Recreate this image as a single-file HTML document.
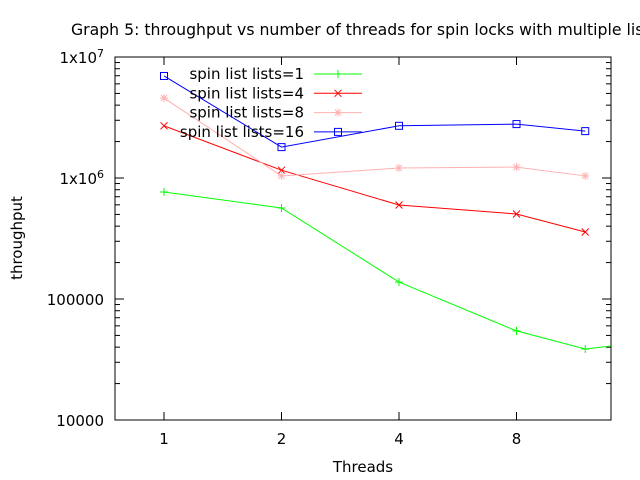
<!DOCTYPE html>
<html><head><meta charset="utf-8"><style>body{margin:0;background:#fff}svg{display:block}text{font-family:"DejaVu Sans","Liberation Sans",sans-serif;font-size:15px;fill:#000}</style></head>
<body>
<svg id="c" width="640" height="480">
<defs><clipPath id="cp"><rect x="115" y="57" width="496" height="363"/></clipPath></defs>
<text x="71" y="35" style="font-size:15.7px">Graph 5: throughput vs number of threads for spin locks with multiple lists</text>
<text x="22" y="238" text-anchor="middle" transform="rotate(-90 22 238)">throughput</text>
<text x="363" y="472" text-anchor="middle">Threads</text>
<g id="axes"></g><g id="series" clip-path="url(#cp)"></g><g id="marks"></g><g id="legend"></g>
</svg>
<script>
const threads=[1,2,4,8,12,16];
const xTicks=[1,2,4,8];
const yTicks=[10000,100000,1000000,10000000];
const yTickLabels=["10000","100000","1x10^6","1x10^7"];
const names=["spin list lists=1","spin list lists=4","spin list lists=8","spin list lists=16"];
const s1=[766000,565000,138000,54500,38600,43000];
const s4=[2700000,1160000,598000,504000,358000];
const s8=[4580000,1040000,1210000,1230000,1040000];
const s16=[6970000,1800000,2700000,2790000,2440000];
const series=[s1,s4,s8,s16];
const colors=["#00ff00","#ff0000","#ffb0b0","#0000ff"];
const NS="http://www.w3.org/2000/svg";
const X=t=>164+Math.log2(t)*117.5;
const Y=v=>420-(Math.log10(v)-4)*121;
function mk(tag,at,p){const e=document.createElementNS(NS,tag);for(const k in at)e.setAttribute(k,at[k]);p.appendChild(e);return e;}
const ax=document.getElementById('axes');
mk('rect',{x:115,y:57,width:496,height:363,fill:'none',stroke:'#000','stroke-width':1},ax);
xTicks.forEach(t=>{const x=X(t);
 mk('line',{x1:x,y1:420,x2:x,y2:412,stroke:'#000'},ax);mk('line',{x1:x,y1:57,x2:x,y2:65,stroke:'#000'},ax);
 const tx=mk('text',{x:x,y:444,'text-anchor':'middle'},ax);tx.textContent=t;
 
 });
yTicks.forEach((v,i)=>{const y=Y(v);
 mk('line',{x1:115,y1:y,x2:124,y2:y,stroke:'#000'},ax);mk('line',{x1:611,y1:y,x2:602,y2:y,stroke:'#000'},ax);
 const tx=mk('text',{x:104,y:y+6,'text-anchor':'end','font-size':'14px'},ax);
 const l=yTickLabels[i];
 if(l.includes('^')){const [a,b]=l.split('^');tx.textContent=a;const ts=mk('tspan',{dy:-6,'font-size':'11px'},tx);ts.textContent=b;}else tx.textContent=l;
 
 
 if(i<yTicks.length-1)for(let m=2;m<10;m++){const ym=Y(v*m);mk('line',{x1:115,y1:ym,x2:120,y2:ym,stroke:'#000'},ax);mk('line',{x1:611,y1:ym,x2:606,y2:ym,stroke:'#000'},ax);}});
const sg=document.getElementById('series'),mg=document.getElementById('marks'),lg=document.getElementById('legend');
function marker(i,x,y,p){const c=colors[i];const a={stroke:c,'stroke-width':1,fill:'none'};
 if(i==0){mk('line',{...a,x1:x-4,y1:y,x2:x+4,y2:y},p);mk('line',{...a,x1:x,y1:y-4,x2:x,y2:y+4},p);}
 else if(i==1){mk('line',{...a,x1:x-3.5,y1:y-3.5,x2:x+3.5,y2:y+3.5},p);mk('line',{...a,x1:x-3.5,y1:y+3.5,x2:x+3.5,y2:y-3.5},p);}
 else if(i==2){mk('line',{...a,x1:x-4,y1:y,x2:x+4,y2:y},p);mk('line',{...a,x1:x,y1:y-4,x2:x,y2:y+4},p);mk('line',{...a,x1:x-3,y1:y-3,x2:x+3,y2:y+3},p);mk('line',{...a,x1:x-3,y1:y+3,x2:x+3,y2:y-3},p);}
 else mk('rect',{...a,x:x-3.5,y:y-3.5,width:7,height:7},p);}
series.forEach((d,i)=>{
 const pts=d.map((v,j)=>X(threads[j])+','+Y(v)).join(' ');
 const pl=mk('polyline',{points:pts,fill:'none',stroke:colors[i],'stroke-width':1},sg);
 
 
 d.forEach((v,j)=>{const x=X(threads[j]);if(x<=611)marker(i,x,Y(v),mg);});
 const ly=74+i*19.3;
 const t=mk('text',{x:304,y:ly+5,'text-anchor':'end','font-size':'15.5px'},lg);t.textContent=names[i];
 
 
 mk('line',{x1:314,y1:ly,x2:362,y2:ly,stroke:colors[i]},lg);marker(i,338,ly,lg);
});
</script>
</body></html>
